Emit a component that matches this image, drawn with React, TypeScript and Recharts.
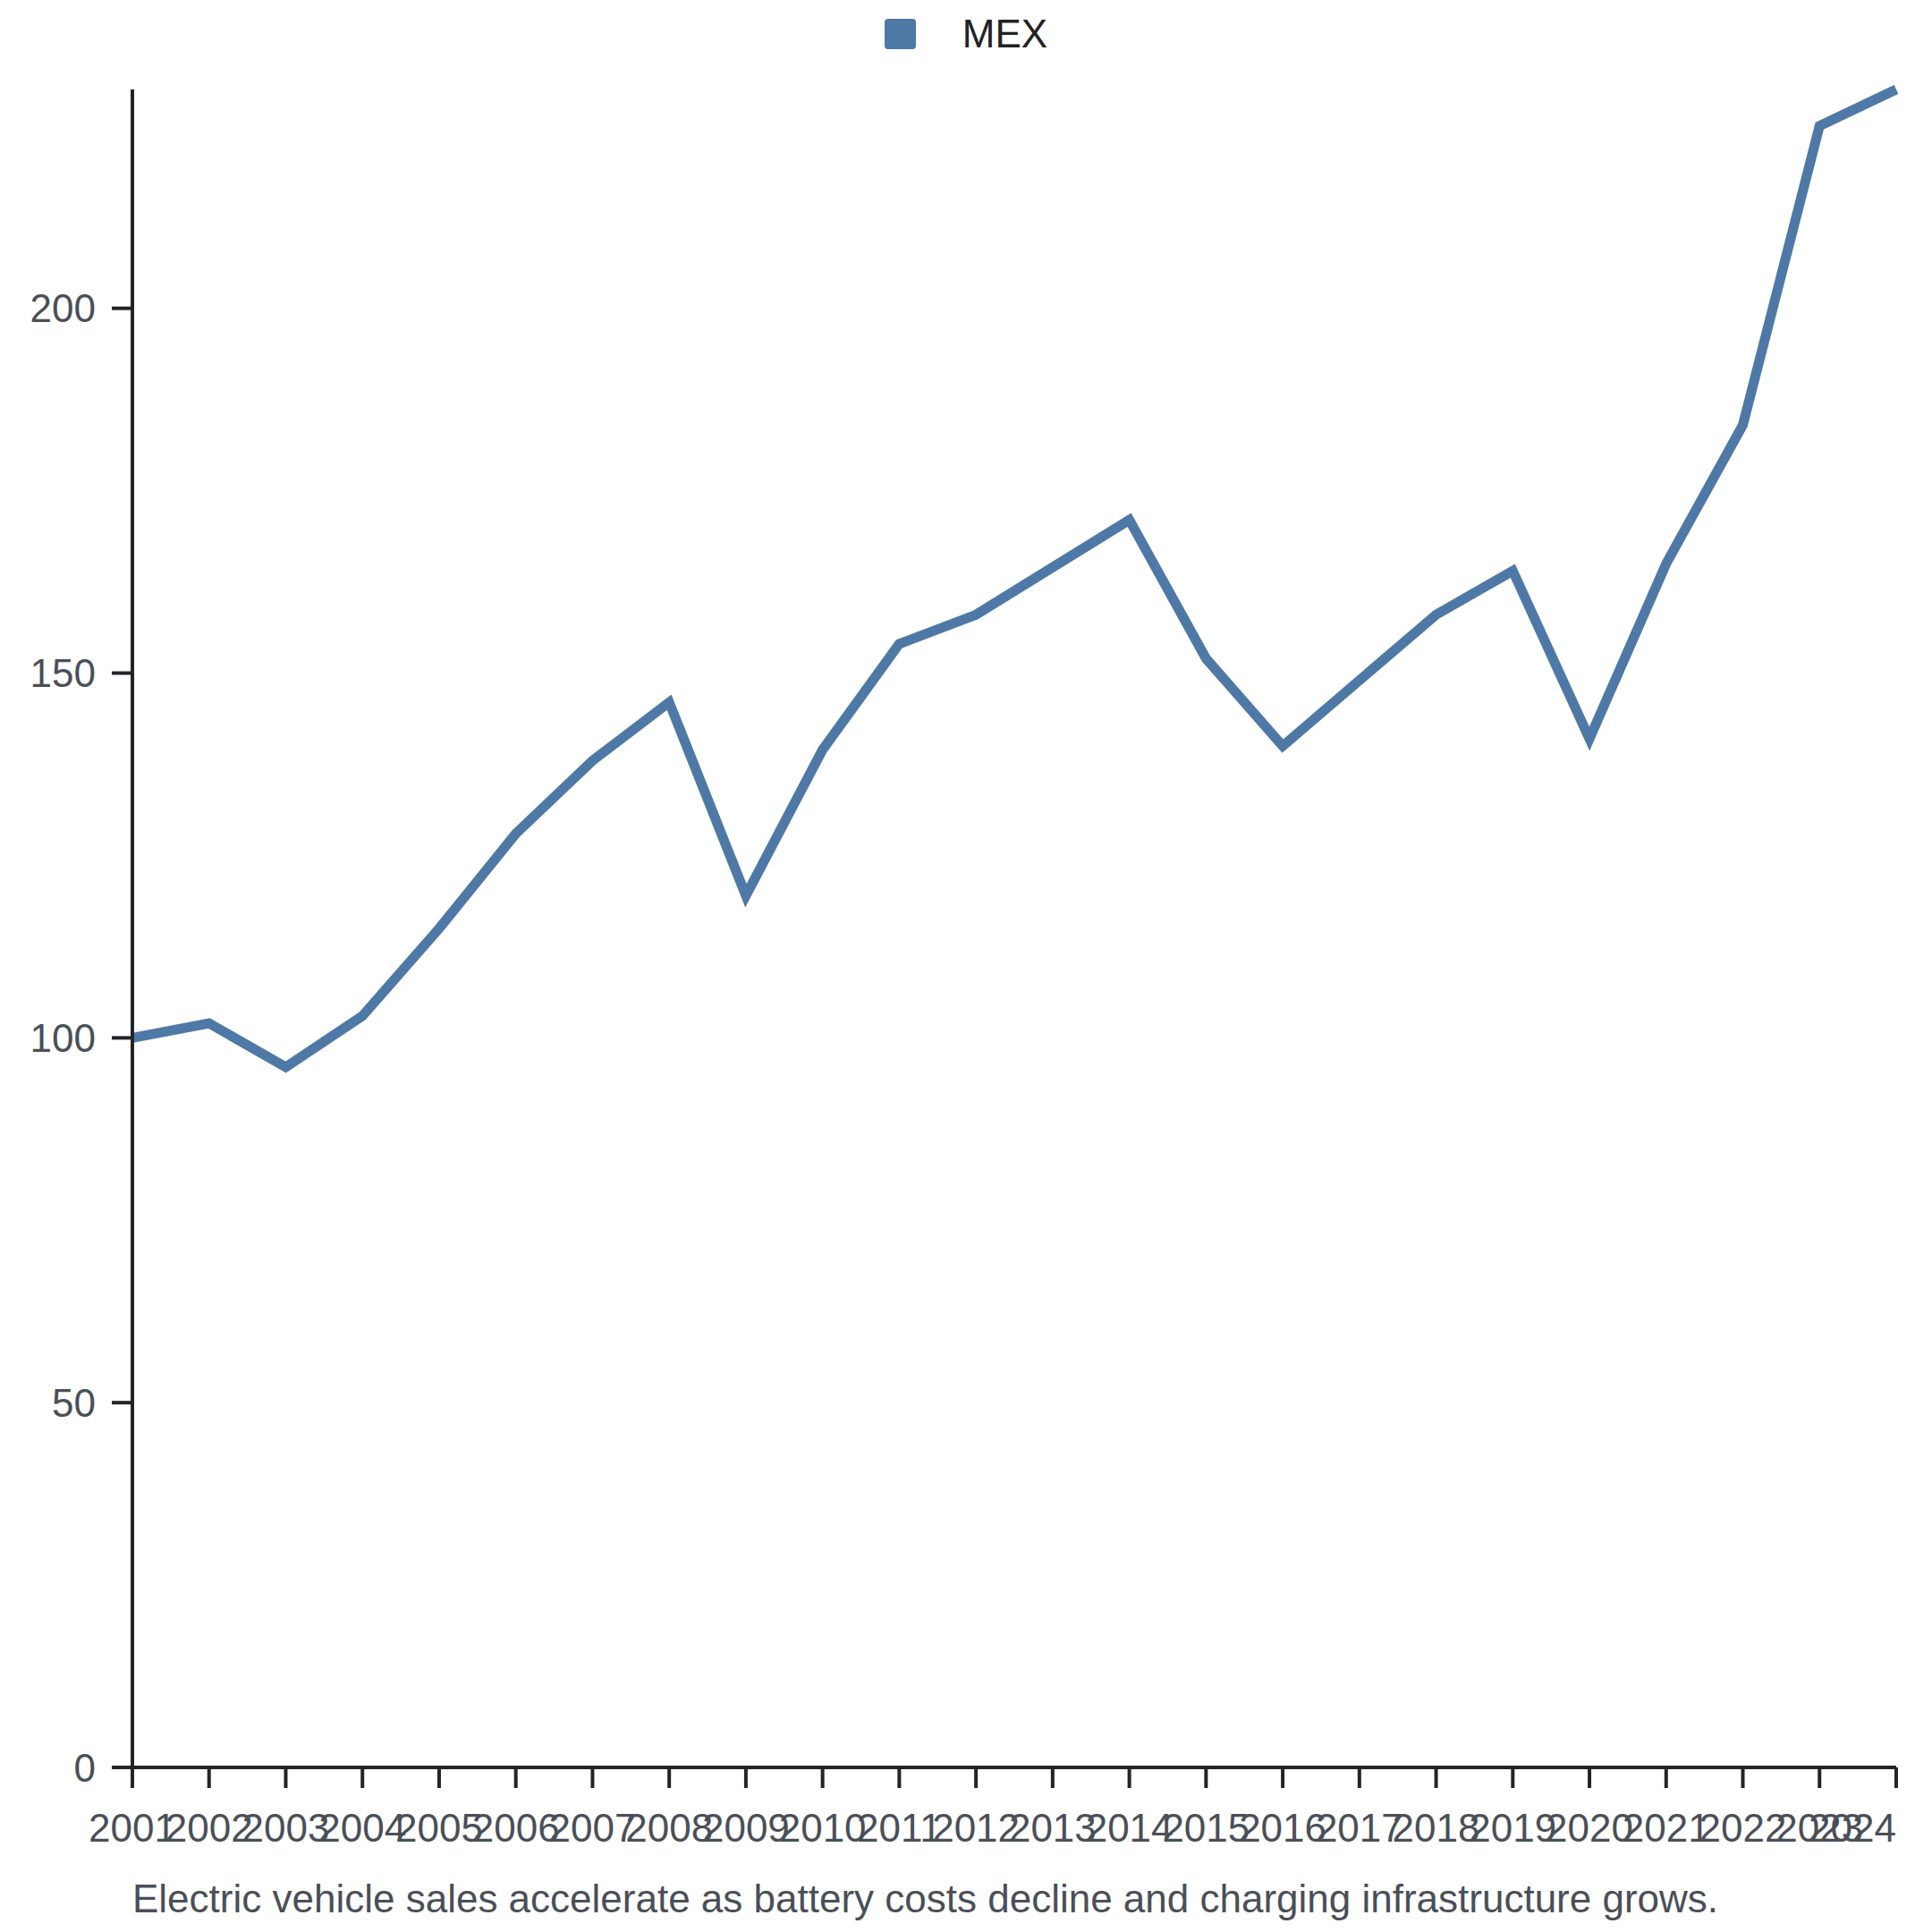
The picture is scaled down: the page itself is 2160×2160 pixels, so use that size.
import { LineChart, Line, XAxis, YAxis, Legend } from "recharts"

const years = [
  "2001", "2002", "2003", "2004", "2005", "2006", "2007", "2008",
  "2009", "2010", "2011", "2012", "2013", "2014", "2015", "2016",
  "2017", "2018", "2019", "2020", "2021", "2022", "2023", "2024"
]

const mex = [
  100, 102, 96, 103, 115, 128, 138, 146,
  119.5, 139.5, 154, 158, 164.5, 171, 152, 140,
  149, 158, 164, 141, 165, 184, 225, 230
]

const yTicks = [0, 50, 100, 150, 200]

const caption =
  "Electric vehicle sales accelerate as battery costs decline and charging infrastructure grows."

const data = years.map((year, i) => ({ year, MEX: mex[i] }))

const font = "'Liberation Sans', Arial, sans-serif"
const axisColor = "#222428"
const labelColor = "#4a4f57"
const blue = "#4e79a7"

function YearTick(props: any) {
  const { x, y, payload } = props
  const last = payload.value === years[years.length - 1]
  return (
    <text
      x={x}
      y={y}
      dy="0.71em"
      textAnchor={last ? "end" : "middle"}
      fill={labelColor}
      fontSize={44}
      fontFamily={font}
    >
      {payload.value}
    </text>
  )
}

function LegendBox() {
  return (
    <div
      style={{
        display: "flex",
        justifyContent: "center",
        alignItems: "center",
        height: 76,
        fontFamily: font
      }}
    >
      <span
        style={{
          width: 35,
          height: 34,
          background: blue,
          borderRadius: 4,
          marginRight: 52
        }}
      />
      <span style={{ fontSize: 44, color: "#222" }}>MEX</span>
    </div>
  )
}

export default function App() {
  return (
    <div
      style={{
        position: "absolute",
        left: 0,
        top: 0,
        width: 2160,
        height: 2160,
        background: "#fff"
      }}
    >
      <LineChart
        width={2160}
        height={2160}
        data={data}
        margin={{ top: 24, right: 40, bottom: 0, left: 0 }}
      >
        <Legend
          verticalAlign="top"
          align="center"
          content={<LegendBox />}
          wrapperStyle={{ top: 0, left: 0, width: 2160 }}
        />
        <XAxis
          dataKey="year"
          interval={0}
          height={184}
          tickSize={23}
          tickMargin={29}
          axisLine={{ stroke: axisColor, strokeWidth: 4 }}
          tickLine={{ stroke: axisColor, strokeWidth: 4 }}
          tick={<YearTick />}
        />
        <YAxis
          width={148}
          domain={[0, 230]}
          ticks={yTicks}
          tickSize={23}
          tickMargin={18}
          axisLine={{ stroke: axisColor, strokeWidth: 4 }}
          tickLine={{ stroke: axisColor, strokeWidth: 4 }}
          tick={{ fill: labelColor, fontSize: 44, fontFamily: font }}
        />
        <Line
          type="linear"
          dataKey="MEX"
          stroke={blue}
          strokeWidth={11}
          dot={false}
          activeDot={false}
          isAnimationActive={false}
        />
      </LineChart>
      <div
        style={{
          position: "absolute",
          left: 148,
          top: 2101,
          fontSize: 44,
          lineHeight: "44px",
          color: labelColor,
          fontFamily: font,
          whiteSpace: "nowrap"
        }}
      >
        {caption}
      </div>
    </div>
  )
}
